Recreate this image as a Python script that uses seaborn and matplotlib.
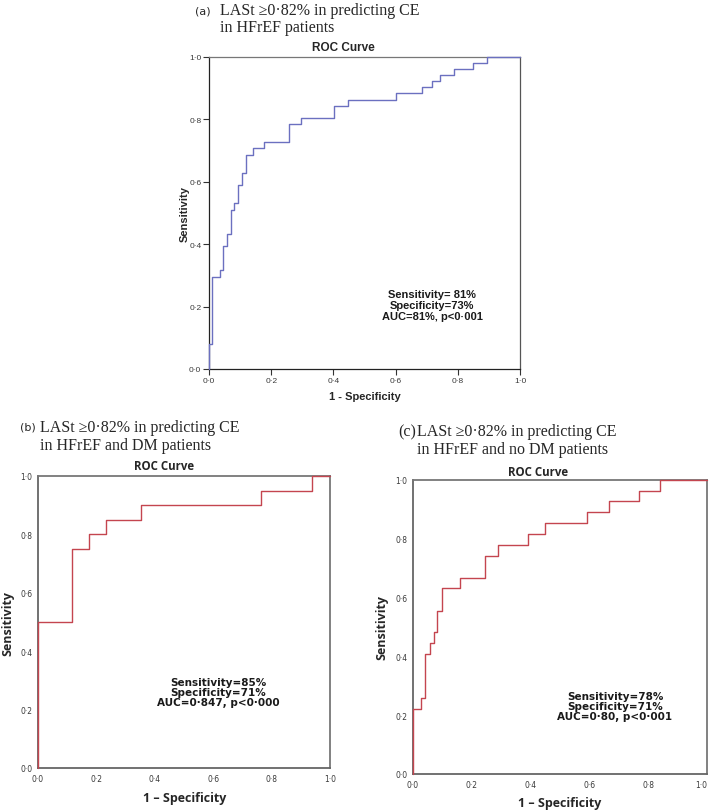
import matplotlib
matplotlib.use("Agg")
import matplotlib.pyplot as plt
import seaborn as sns

# ---------------- data ----------------
# points: x = 1-specificity where the curve rises, y = sensitivity after the rise
fpr_a = [0, 0, 0.011, 0.035, 0.046, 0.057, 0.070, 0.081, 0.094, 0.107, 0.118, 0.140,
         0.177, 0.258, 0.296, 0.401, 0.448, 0.600, 0.684, 0.718, 0.743, 0.789, 0.848,
         0.895, 1.0]
tpr_a = [0, 0.080, 0.296, 0.317, 0.393, 0.433, 0.510, 0.531, 0.591, 0.628, 0.687, 0.708,
         0.727, 0.785, 0.804, 0.843, 0.863, 0.884, 0.903, 0.922, 0.942, 0.962, 0.981,
         1.0, 1.0]

fpr_b = [0, 0, 0.118, 0.175, 0.234, 0.354, 0.763, 0.940, 1.0]
tpr_b = [0, 0.50, 0.75, 0.80, 0.85, 0.90, 0.95, 1.0, 1.0]

fpr_c = [0, 0, 0.028, 0.042, 0.057, 0.070, 0.083, 0.099, 0.159, 0.244, 0.289, 0.391,
         0.448, 0.592, 0.666, 0.768, 0.839, 1.0]
tpr_c = [0, 0.222, 0.258, 0.408, 0.444, 0.482, 0.556, 0.632, 0.667, 0.740, 0.779, 0.815,
         0.854, 0.891, 0.928, 0.964, 1.0, 1.0]

tick_vals = [0.0, 0.2, 0.4, 0.6, 0.8, 1.0]
tick_labels = ["0\u00b70", "0\u00b72", "0\u00b74", "0\u00b76", "0\u00b78", "1\u00b70"]

heading_1 = "LASt \u22650\u00b782% in predicting CE"
heading_a2 = "in HFrEF patients"
heading_b2 = "in HFrEF and DM patients"
heading_c2 = "in HFrEF and no DM patients"
title = "ROC Curve"
ylabel = "Sensitivity"
xlabel_a = "1 - Specificity"
xlabel_bc = "1 \u2013 Specificity"
annot_a = "Sensitivity= 81%\nSpecificity=73%\nAUC=81%, p<0\u00b7001"
annot_b = "Sensitivity=85%\nSpecificity=71%\nAUC=0\u00b7847, p<0\u00b7000"
annot_c = "Sensitivity=78%\nSpecificity=71%\nAUC=0\u00b780, p<0\u00b7001"

# ---------------- figure ----------------
sns.set_style("white")
plt.rcParams["font.family"] = ["DejaVu Sans"]

W, H = 709, 812
fig = plt.figure(figsize=(W / 100, H / 100), dpi=100)
fig.patch.set_facecolor("white")


def add_ax(l, t, r, b):
    return fig.add_axes([l / W, 1 - b / H, (r - l) / W, (b - t) / H])


def T(x, y, s, **kw):
    kw.setdefault("ha", "left")
    kw.setdefault("va", "center")
    fig.text(x / W, 1 - y / H, s, **kw)


SERIF = ["Liberation Serif", "DejaVu Serif"]
ARIAL = ["Liberation Sans", "DejaVu Sans"]
OPEN = ["Open Sans", "DejaVu Sans"]


def setup(ax, xs, ys, color, tick_family, tick_size, tick_len, pad, spine_cols, spine_w):
    sns.lineplot(x=xs, y=ys, ax=ax, estimator=None, sort=False,
                 drawstyle="steps-post", color=color, linewidth=1.0,
                 clip_on=False, zorder=3)
    ax.set_xlim(0, 1)
    ax.set_ylim(0, 1)
    ax.set_xticks(tick_vals)
    ax.set_yticks(tick_vals)
    ax.set_xticklabels(tick_labels, fontfamily=tick_family, fontsize=tick_size, color="#3a3a3a")
    ax.set_yticklabels(tick_labels, fontfamily=tick_family, fontsize=tick_size, color="#3a3a3a")
    ax.tick_params(length=tick_len, width=0.8, color="#333333", pad=pad,
                   bottom=True, left=True)
    ax.set_xlabel("")
    ax.set_ylabel("")
    ax.grid(False)
    for side, c in spine_cols.items():
        ax.spines[side].set_visible(True)
        ax.spines[side].set_color(c)
        ax.spines[side].set_linewidth(spine_w)


# ---- panel (a)
axa = add_ax(209, 58, 520, 370)
setup(axa, fpr_a, tpr_a, "#6b70c0", ARIAL, 6, 4, 1.5,
      {"left": "#222222", "bottom": "#222222", "top": "#777777", "right": "#555555"}, 0.9)
T(195, 11, "(a)", family=["DejaVu Sans"], fontsize=8)
T(220, 11, heading_1, family=SERIF, fontsize=11.5)
T(220, 28, heading_a2, family=SERIF, fontsize=11.5)
T(343, 48, title, ha="center", family=ARIAL, fontsize=8.5, fontweight="bold")
T(185, 214, ylabel, ha="center", rotation=90, family=ARIAL, fontsize=8, fontweight="bold")
T(365, 397, xlabel_a, ha="center", family=ARIAL, fontsize=8, fontweight="bold")
T(432, 306, annot_a, ha="center", multialignment="center", family=ARIAL,
  fontsize=8, fontweight="bold", color="#1a1a1a", linespacing=1.1)

# ---- panel (b)
axb = add_ax(38, 477, 330, 769)
setup(axb, fpr_b, tpr_b, "#c4454f", ["DejaVu Sans"], 5.5, 0, 4,
      {"left": "#666666", "bottom": "#666666", "top": "#777777", "right": "#777777"}, 1.3)
T(20, 428, "(b)", family=["DejaVu Sans"], fontsize=8)
T(40, 428, heading_1, family=SERIF, fontsize=11.5)
T(40, 446, heading_b2, family=SERIF, fontsize=11.5)
T(164, 467, title, ha="center", family=OPEN, fontsize=8.3, fontweight="bold")
T(8, 623, ylabel, ha="center", rotation=90, family=OPEN, fontsize=9, fontweight="bold")
T(185, 799, xlabel_bc, ha="center", family=OPEN, fontsize=9, fontweight="bold")
T(218, 693, annot_b, ha="center", multialignment="center", family=["DejaVu Sans"],
  fontsize=7.5, fontweight="bold", color="#1a1a1a", linespacing=1.05)

# ---- panel (c)
axc = add_ax(413, 481, 707, 775)
setup(axc, fpr_c, tpr_c, "#c4454f", ["DejaVu Sans"], 5.5, 0, 4,
      {"left": "#666666", "bottom": "#666666", "top": "#777777", "right": "#777777"}, 1.3)
# keep the last x tick label inside the figure edge
axc.get_xticklabels()[-1].set_horizontalalignment("right")
T(398, 432, "(c)", family=SERIF, fontsize=11.5)
T(417, 432, heading_1, family=SERIF, fontsize=11.5)
T(417, 450, heading_c2, family=SERIF, fontsize=11.5)
T(538, 473, title, ha="center", family=OPEN, fontsize=8.3, fontweight="bold")
T(382, 628, ylabel, ha="center", rotation=90, family=OPEN, fontsize=9, fontweight="bold")
T(560, 804, xlabel_bc, ha="center", family=OPEN, fontsize=9, fontweight="bold")
T(615, 707, annot_c, ha="center", multialignment="center", family=["DejaVu Sans"],
  fontsize=7.5, fontweight="bold", color="#1a1a1a", linespacing=1.05)

fig.savefig("out.png", dpi=100, facecolor="white")
